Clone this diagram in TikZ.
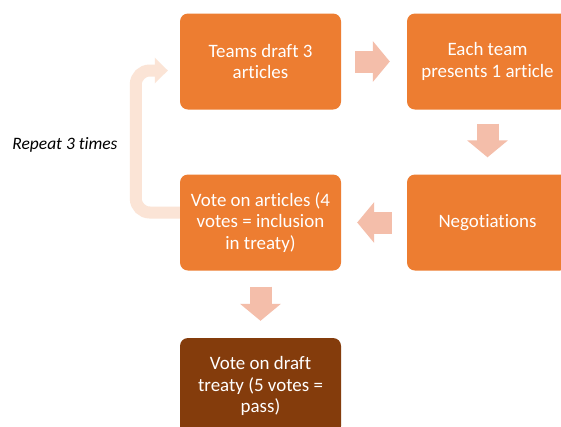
\documentclass[tikz,border=0pt]{standalone}
\usepackage{fontspec}
\setmainfont{Carlito}[Ligatures=NoCommon]
\usetikzlibrary{arrows.meta}
\definecolor{boxorange}{HTML}{ED7D31}
\definecolor{boxbrown}{HTML}{843C0C}
\definecolor{arrowpink}{HTML}{F4BEAA}
\definecolor{looppink}{HTML}{FBE4D6}
\tikzset{
  box/.style={fill=boxorange,text=white,rounded corners=8bp,minimum width=161bp,
    minimum height=96bp,align=center,font=\fontsize{19}{21.5}\selectfont},
  finalbox/.style={box,fill=boxbrown},
  blockarrow/.style={color=arrowpink,line width=22bp,
    -{Triangle[width=40bp,length=17bp]}},
  looparrow/.style={color=looppink,line width=12bp,rounded corners=14bp,
    -{Triangle[width=25bp,length=13bp]}}
}
\begin{document}
\begin{tikzpicture}[x=1bp,y=-1bp]
   \clip (0,0) rectangle (561,426);
   \fill[white] (0,0) rectangle (561,426);
   \node[box] (draft) at (260.5,61.5) {Teams draft 3\\articles};
   \node[box] (present) at (487.5,61.5) {Each team\\presents 1 article};
   \node[box] (vote) at (260.5,222.5) {Vote on articles (4\\votes = inclusion\\in treaty)};
   \node[box] (nego) at (487.5,222.5) {Negotiations};
   \node[finalbox] (final) at (260.5,386) {Vote on draft\\treaty (5 votes =\\pass)};
   \node (repeat) at (65,145) {\fontsize{17.5}{21}\selectfont\itshape Repeat 3 times};
   \path[blockarrow,shorten <=14bp,shorten >=17bp] (draft) edge (present);
   \path[blockarrow,shorten <=14bp,shorten >=17bp] (present) edge (nego);
   \path[blockarrow,shorten <=15bp,shorten >=16bp] (nego) edge (vote);
   \path[blockarrow,shorten <=16bp,shorten >=17bp] (vote) edge (final);
   \draw[looparrow,shorten >=12bp] ([yshift=10bp]vote.west) -- ++(-44,0)
      |- ([yshift=-9bp]draft.west);

\end{tikzpicture}
\end{document}
